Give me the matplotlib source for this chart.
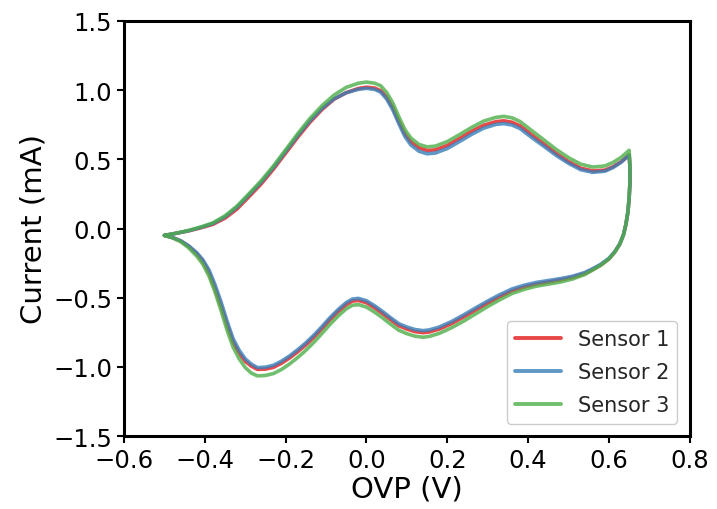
import numpy as np
import matplotlib
matplotlib.use("Agg")
import matplotlib.pyplot as plt

# ─── CV data: forward (anodic) sweep ───
v_fwd = [-0.50, -0.47, -0.44, -0.41, -0.38, -0.35, -0.32, -0.29, -0.26, -0.23,
         -0.20, -0.17, -0.14, -0.11, -0.08, -0.05, -0.02, 0.00, 0.02, 0.035,
         0.05, 0.065, 0.08, 0.095, 0.11, 0.13, 0.15, 0.17, 0.20, 0.23,
         0.26, 0.29, 0.32, 0.34, 0.36, 0.38, 0.41, 0.44, 0.47, 0.50,
         0.53, 0.56, 0.59, 0.61, 0.63, 0.65]

i_fwd_s1 = [-0.050, -0.034, -0.017, 0.005, 0.030, 0.075, 0.142, 0.232, 0.324, 0.430,
            0.545, 0.660, 0.767, 0.860, 0.935, 0.982, 1.012, 1.021, 1.015, 0.996,
            0.950, 0.875, 0.775, 0.685, 0.625, 0.582, 0.564, 0.568, 0.600, 0.650,
            0.702, 0.746, 0.772, 0.778, 0.768, 0.742, 0.674, 0.608, 0.541, 0.483,
            0.436, 0.416, 0.422, 0.446, 0.482, 0.532]
i_fwd_s2 = [-0.050, -0.034, -0.016, 0.008, 0.036, 0.085, 0.155, 0.245, 0.337, 0.442,
            0.557, 0.672, 0.778, 0.868, 0.938, 0.981, 1.006, 1.013, 1.005, 0.986,
            0.935, 0.858, 0.758, 0.665, 0.603, 0.558, 0.540, 0.545, 0.578, 0.628,
            0.680, 0.725, 0.752, 0.758, 0.748, 0.722, 0.655, 0.592, 0.527, 0.471,
            0.425, 0.406, 0.414, 0.440, 0.478, 0.530]
i_fwd_s3 = [-0.050, -0.033, -0.014, 0.011, 0.041, 0.092, 0.163, 0.254, 0.347, 0.453,
            0.569, 0.686, 0.795, 0.888, 0.965, 1.020, 1.050, 1.058, 1.050, 1.032,
            0.983, 0.908, 0.808, 0.715, 0.653, 0.607, 0.590, 0.595, 0.628, 0.678,
            0.730, 0.776, 0.803, 0.810, 0.800, 0.773, 0.705, 0.638, 0.570, 0.512,
            0.465, 0.444, 0.452, 0.477, 0.514, 0.565]

# ─── reverse (cathodic) sweep ───
v_rev = [0.652, 0.652, 0.650, 0.647, 0.642, 0.636, 0.627, 0.615, 0.600, 0.580,
         0.560, 0.540, 0.510, 0.480, 0.450, 0.420, 0.390, 0.360, 0.330, 0.300,
         0.270, 0.240, 0.210, 0.180, 0.155, 0.140, 0.120, 0.100, 0.080, 0.060,
         0.040, 0.020, 0.000, -0.020, -0.035, -0.050, -0.070, -0.090, -0.110, -0.130,
         -0.150, -0.170, -0.190, -0.210, -0.230, -0.250, -0.270, -0.285, -0.300, -0.315,
         -0.330, -0.345, -0.360, -0.375, -0.390, -0.405, -0.420, -0.440, -0.460, -0.480,
         -0.500]

i_rev_s1 = [0.440, 0.330, 0.220, 0.120, 0.030, -0.045, -0.112, -0.168, -0.220, -0.264,
            -0.297, -0.326, -0.354, -0.372, -0.387, -0.402, -0.423, -0.451, -0.493, -0.539,
            -0.589, -0.640, -0.688, -0.727, -0.748, -0.753, -0.745, -0.727, -0.703, -0.660,
            -0.615, -0.573, -0.537, -0.520, -0.525, -0.550, -0.600, -0.658, -0.723, -0.785,
            -0.841, -0.890, -0.935, -0.973, -1.003, -1.016, -1.018, -0.995, -0.960, -0.902,
            -0.822, -0.698, -0.560, -0.432, -0.318, -0.238, -0.183, -0.129, -0.090, -0.066,
            -0.050]
i_rev_s2 = [0.440, 0.330, 0.220, 0.120, 0.030, -0.045, -0.110, -0.165, -0.215, -0.258,
            -0.290, -0.318, -0.345, -0.362, -0.376, -0.390, -0.410, -0.437, -0.478, -0.524,
            -0.574, -0.625, -0.673, -0.712, -0.733, -0.738, -0.730, -0.712, -0.688, -0.645,
            -0.600, -0.558, -0.522, -0.505, -0.510, -0.535, -0.585, -0.643, -0.708, -0.770,
            -0.826, -0.875, -0.920, -0.958, -0.988, -1.002, -1.005, -0.980, -0.942, -0.880,
            -0.797, -0.670, -0.530, -0.405, -0.298, -0.225, -0.175, -0.125, -0.088, -0.065,
            -0.050]
i_rev_s3 = [0.460, 0.340, 0.225, 0.122, 0.030, -0.046, -0.112, -0.168, -0.220, -0.265,
            -0.300, -0.333, -0.365, -0.387, -0.402, -0.417, -0.440, -0.470, -0.515, -0.564,
            -0.617, -0.670, -0.718, -0.758, -0.780, -0.786, -0.778, -0.760, -0.735, -0.692,
            -0.646, -0.604, -0.568, -0.550, -0.555, -0.580, -0.632, -0.692, -0.758, -0.822,
            -0.880, -0.932, -0.978, -1.018, -1.048, -1.062, -1.065, -1.045, -1.005, -0.942,
            -0.858, -0.735, -0.592, -0.458, -0.342, -0.258, -0.200, -0.140, -0.095, -0.068,
            -0.050]

labels = ["Sensor 1", "Sensor 2", "Sensor 3"]
colors = ["#e41a1c", "#377eb8", "#4daf4a"]

fig = plt.figure(figsize=(7.17, 5.10), dpi=100)
ax = fig.add_axes([0.173, 0.143, 0.789, 0.814])

sweeps = [(i_fwd_s1, i_rev_s1), (i_fwd_s2, i_rev_s2), (i_fwd_s3, i_rev_s3)]
for (fwd, rev), lab, c in zip(sweeps, labels, colors):
    v = np.concatenate([v_fwd, v_rev])
    cur = np.concatenate([fwd, rev])
    ax.plot(v, cur, color=c, lw=2.6, alpha=0.8, label=lab,
            solid_joinstyle="round", solid_capstyle="round")

ax.set_xlim(-0.6, 0.8)
ax.set_ylim(-1.5, 1.5)
ax.set_xticks(np.arange(-0.6, 0.81, 0.2))
ax.set_yticks(np.arange(-1.5, 1.51, 0.5))
ax.set_xlabel("OVP (V)", fontsize=21, labelpad=2)
ax.set_ylabel("Current (mA)", fontsize=21)
ax.tick_params(labelsize=17.5, width=1.5, length=5)
for sp in ax.spines.values():
    sp.set_linewidth(2.2)

leg = ax.legend(loc="lower right", fontsize=15, framealpha=1,
                handlelength=2.2, labelspacing=0.62, borderaxespad=0.6)
for h in leg.get_lines():
    h.set_linewidth(2.8)
for t in leg.get_texts():
    t.set_color("#262626")

fig.savefig("out.png", dpi=100)
